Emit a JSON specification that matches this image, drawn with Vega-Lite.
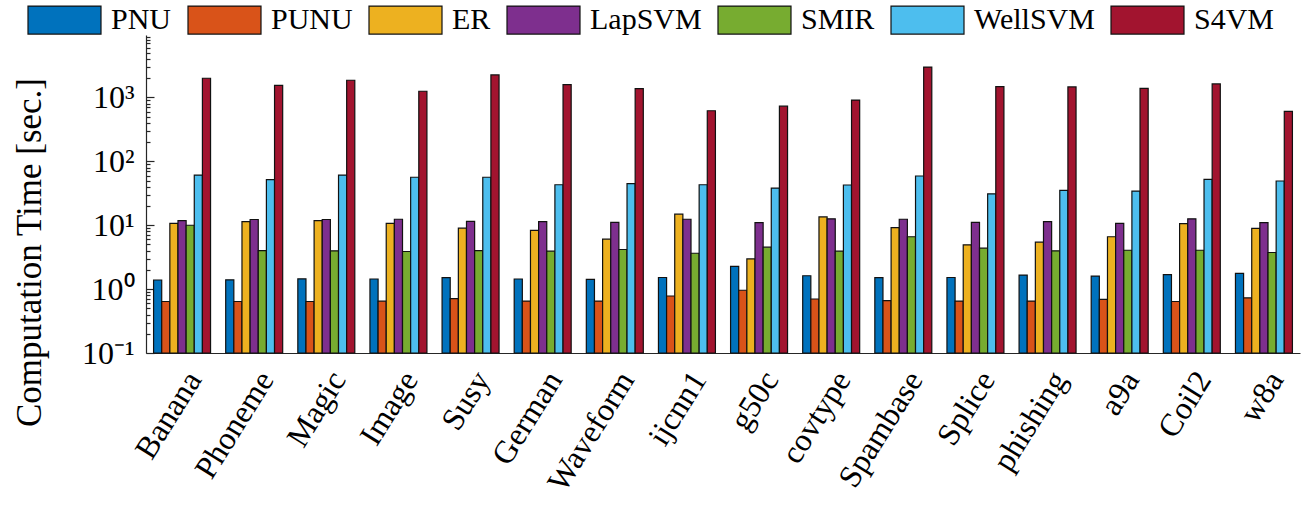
{
  "$schema": "https://vega.github.io/schema/vega-lite/v6.json",
  "autosize": {"type": "none"},
  "width": 1154,
  "height": 318,
  "padding": {"left": 146, "top": 35, "right": 8, "bottom": 159},
  "background": "white",
  "config": {
    "view": {"stroke": null},
    "font": "Liberation Serif",
    "axis": {"grid": false, "domainColor": "#262626", "tickColor": "#262626", "labelColor": "#000000", "titleColor": "#000000", "labelFont": "Liberation Serif", "titleFont": "Liberation Serif", "domainWidth": 1.2, "tickWidth": 1.2}
  },
  "data": {
    "values": [
      {"dataset": "Banana", "PNU": 1.39, "PUNU": 0.64, "ER": 10.7, "LapSVM": 11.8, "SMIR": 10.0, "WellSVM": 61, "S4VM": 2000},
      {"dataset": "Phoneme", "PNU": 1.40, "PUNU": 0.64, "ER": 11.4, "LapSVM": 12.3, "SMIR": 4.0, "WellSVM": 51.6, "S4VM": 1550},
      {"dataset": "Magic", "PNU": 1.45, "PUNU": 0.64, "ER": 11.8, "LapSVM": 12.3, "SMIR": 3.97, "WellSVM": 61, "S4VM": 1860},
      {"dataset": "Image", "PNU": 1.44, "PUNU": 0.647, "ER": 10.7, "LapSVM": 12.4, "SMIR": 3.88, "WellSVM": 56.4, "S4VM": 1250},
      {"dataset": "Susy", "PNU": 1.51, "PUNU": 0.71, "ER": 9.0, "LapSVM": 11.5, "SMIR": 4.0, "WellSVM": 56.4, "S4VM": 2255},
      {"dataset": "German", "PNU": 1.44, "PUNU": 0.65, "ER": 8.3, "LapSVM": 11.4, "SMIR": 3.92, "WellSVM": 43, "S4VM": 1590},
      {"dataset": "Waveform", "PNU": 1.42, "PUNU": 0.65, "ER": 6.06, "LapSVM": 11.1, "SMIR": 4.17, "WellSVM": 44.7, "S4VM": 1376},
      {"dataset": "ijcnn1", "PNU": 1.52, "PUNU": 0.78, "ER": 14.9, "LapSVM": 12.4, "SMIR": 3.64, "WellSVM": 43, "S4VM": 619},
      {"dataset": "g50c", "PNU": 2.27, "PUNU": 0.96, "ER": 2.97, "LapSVM": 11.0, "SMIR": 4.53, "WellSVM": 38.2, "S4VM": 731},
      {"dataset": "covtype", "PNU": 1.62, "PUNU": 0.70, "ER": 13.5, "LapSVM": 12.6, "SMIR": 3.92, "WellSVM": 42.6, "S4VM": 910},
      {"dataset": "Spambase", "PNU": 1.51, "PUNU": 0.66, "ER": 9.2, "LapSVM": 12.4, "SMIR": 6.6, "WellSVM": 59, "S4VM": 2985},
      {"dataset": "Splice", "PNU": 1.52, "PUNU": 0.65, "ER": 4.94, "LapSVM": 11.1, "SMIR": 4.37, "WellSVM": 31, "S4VM": 1480},
      {"dataset": "phishing", "PNU": 1.66, "PUNU": 0.65, "ER": 5.43, "LapSVM": 11.4, "SMIR": 3.97, "WellSVM": 35.2, "S4VM": 1460},
      {"dataset": "a9a", "PNU": 1.6, "PUNU": 0.69, "ER": 6.6, "LapSVM": 10.7, "SMIR": 4.06, "WellSVM": 34.3, "S4VM": 1390},
      {"dataset": "Coil2", "PNU": 1.68, "PUNU": 0.64, "ER": 10.6, "LapSVM": 12.6, "SMIR": 4.06, "WellSVM": 52.4, "S4VM": 1626},
      {"dataset": "w8a", "PNU": 1.76, "PUNU": 0.73, "ER": 8.9, "LapSVM": 11.0, "SMIR": 3.74, "WellSVM": 49.2, "S4VM": 605}
    ]
  },
  "transform": [
    {"fold": ["PNU", "PUNU", "ER", "LapSVM", "SMIR", "WellSVM", "S4VM"], "as": ["method", "time"]}
  ],
  "mark": {"type": "bar", "stroke": "#111111", "strokeWidth": 1.2},
  "encoding": {
    "x": {
      "field": "dataset", "type": "nominal", "sort": null,
      "scale": {"paddingInner": 0.21, "paddingOuter": 0.105},
      "axis": {"title": null, "labelAngle": -58, "labelAlign": "right", "labelBaseline": "middle", "labelFontSize": 32, "labelPadding": 26, "labelOffset": 12, "tickSize": -5, "labelOverlap": false, "labelBound": false}
    },
    "xOffset": {
      "field": "method", "type": "nominal",
      "scale": {"domain": ["PNU", "PUNU", "ER", "LapSVM", "SMIR", "WellSVM", "S4VM"], "paddingInner": 0, "paddingOuter": 0}
    },
    "y": {
      "field": "time", "type": "quantitative",
      "scale": {"type": "log", "domain": [0.1, 9500], "nice": false},
      "axis": {
        "title": "Computation Time [sec.]",
        "titleFontSize": 35, "titleFontWeight": "normal",
        "titleX": -106, "titleY": 217, "titleAngle": 270, "titleAlign": "center", "titleBaseline": "alphabetic",
        "values": [0.1,0.2,0.3,0.4,0.5,0.6,0.7,0.8,0.9,1,2,3,4,5,6,7,8,9,10,20,30,40,50,60,70,80,90,100,200,300,400,500,600,700,800,900,1000,2000,3000,4000,5000,6000,7000,8000,9000],
        "labelExpr": "datum.value == 0.1 ? '10⁻¹' : datum.value == 1 ? '10⁰' : datum.value == 10 ? '10¹' : datum.value == 100 ? '10²' : datum.value == 1000 ? '10³' : ''",
        "labelFontSize": 32, "labelOverlap": false, "labelBound": false, "labelFlush": false,
        "tickSize": {"condition": {"test": "indexof([0.1,1,10,100,1000], datum.value) >= 0", "value": -8}, "value": -4},
        "labelPadding": 20
      }
    },
    "y2": {"datum": 0.1},
    "color": {
      "field": "method", "type": "nominal",
      "scale": {"domain": ["PNU", "PUNU", "ER", "LapSVM", "SMIR", "WellSVM", "S4VM"], "range": ["#0072BD", "#D95319", "#EDB120", "#7E2F8E", "#77AC30", "#4DBEEE", "#A2142F"]},
      "legend": {"orient": "none", "legendX": -119, "legendY": -52.5, "direction": "horizontal", "columns": 7, "title": null, "symbolType": "M-1,-0.384L1,-0.384L1,0.384L-1,0.384Z", "symbolSize": 5329, "symbolStrokeColor": "#111111", "symbolStrokeWidth": 1.2, "symbolOpacity": 1, "labelFontSize": 30, "labelFont": "Liberation Serif", "labelColor": "#000000", "labelOffset": 9, "columnPadding": 13, "padding": 0, "labelLimit": 400}
    }
  }
}
